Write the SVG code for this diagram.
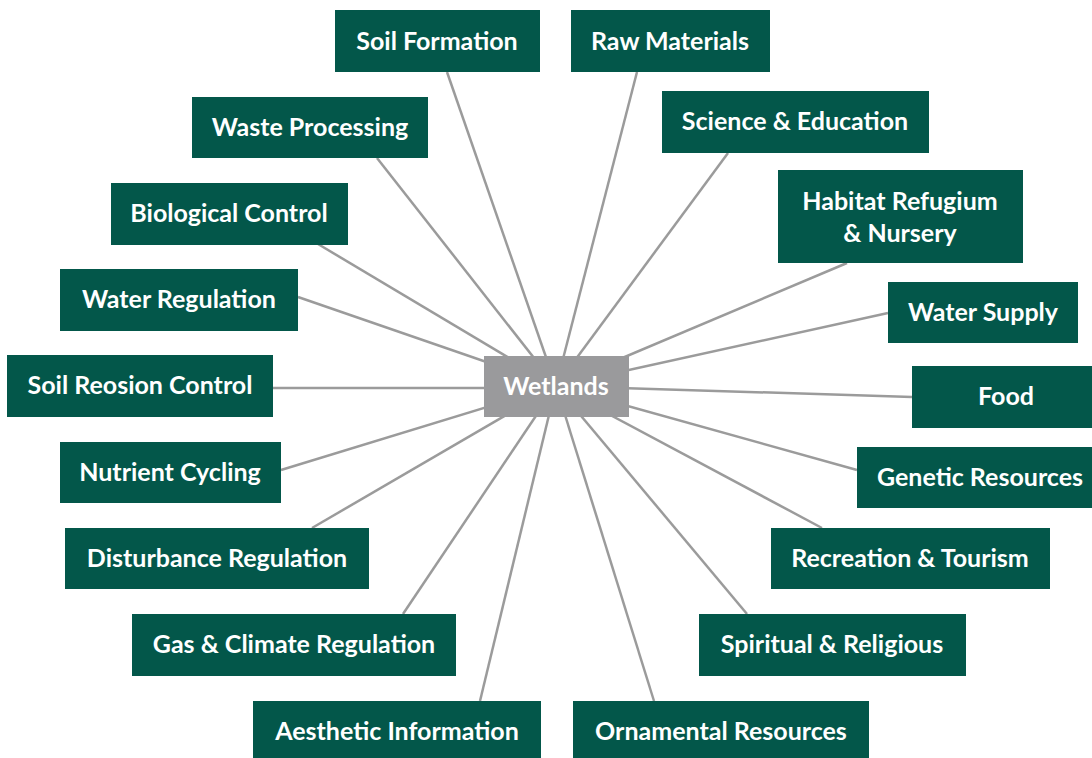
<svg xmlns="http://www.w3.org/2000/svg" width="1092" height="758" viewBox="0 0 1092 758">
<style>
.box{fill:#03574a}
.hub{fill:#9a9a9c}
.lbl{font-family:Lato,"Open Sans","Liberation Sans",sans-serif;font-weight:700;font-size:25px;fill:#ffffff;text-anchor:middle}
.conn line{stroke:#9b9b9b;stroke-width:2.5}
</style>
<rect width="1092" height="758" fill="#ffffff"/>
<g class="conn" id="connectors">
<line x1="447" y1="72" x2="556" y2="386"/>
<line x1="637" y1="72" x2="556" y2="386"/>
<line x1="377" y1="158" x2="556" y2="386"/>
<line x1="728" y1="153" x2="556" y2="386"/>
<line x1="318" y1="244" x2="556" y2="386"/>
<line x1="847" y1="263" x2="556" y2="386"/>
<line x1="298" y1="297" x2="556" y2="386"/>
<line x1="888" y1="313" x2="556" y2="386"/>
<line x1="273" y1="388" x2="556" y2="388"/>
<line x1="912" y1="397" x2="556" y2="386"/>
<line x1="281" y1="470" x2="556" y2="386"/>
<line x1="857" y1="470" x2="556" y2="386"/>
<line x1="312" y1="528" x2="556" y2="386"/>
<line x1="822" y1="528" x2="556" y2="386"/>
<line x1="403" y1="614" x2="556" y2="386"/>
<line x1="747" y1="614" x2="556" y2="386"/>
<line x1="480" y1="701" x2="556" y2="386"/>
<line x1="654" y1="701" x2="556" y2="386"/>
</g>
<g id="wetlands"><rect class="hub" x="484" y="356" width="145" height="61"/><text class="lbl" x="556" y="395">Wetlands</text></g>
<g id="soil-formation"><rect class="box" x="335" y="10" width="205" height="62"/><text class="lbl" x="437" y="50">Soil Formation</text></g>
<g id="raw-materials"><rect class="box" x="571" y="10" width="199" height="62"/><text class="lbl" x="670" y="50">Raw Materials</text></g>
<g id="waste-processing"><rect class="box" x="192" y="97" width="236" height="61"/><text class="lbl" x="310" y="136">Waste Processing</text></g>
<g id="science-education"><rect class="box" x="662" y="91" width="267" height="62"/><text class="lbl" x="795" y="130">Science &amp; Education</text></g>
<g id="biological-control"><rect class="box" x="111" y="183" width="237" height="62"/><text class="lbl" x="229" y="222">Biological Control</text></g>
<g id="habitat"><rect class="box" x="778" y="170" width="245" height="93"/><text class="lbl" x="900" y="210">Habitat Refugium</text><text class="lbl" x="900" y="242">&amp; Nursery</text></g>
<g id="water-regulation"><rect class="box" x="60" y="269" width="238" height="62"/><text class="lbl" x="179" y="308">Water Regulation</text></g>
<g id="water-supply"><rect class="box" x="888" y="282" width="190" height="61"/><text class="lbl" x="983" y="321">Water Supply</text></g>
<g id="soil-erosion"><rect class="box" x="7" y="355" width="266" height="62"/><text class="lbl" x="140" y="394">Soil Reosion Control</text></g>
<g id="food"><rect class="box" x="912" y="366" width="190" height="62"/><text class="lbl" x="1006" y="405">Food</text></g>
<g id="nutrient-cycling"><rect class="box" x="60" y="442" width="221" height="61"/><text class="lbl" x="170" y="481">Nutrient Cycling</text></g>
<g id="genetic-resources"><rect class="box" x="857" y="447" width="246" height="61"/><text class="lbl" x="980" y="486">Genetic Resources</text></g>
<g id="disturbance-regulation"><rect class="box" x="65" y="528" width="304" height="61"/><text class="lbl" x="217" y="567">Disturbance Regulation</text></g>
<g id="recreation-tourism"><rect class="box" x="771" y="528" width="279" height="61"/><text class="lbl" x="910" y="567">Recreation &amp; Tourism</text></g>
<g id="gas-climate"><rect class="box" x="132" y="614" width="324" height="62"/><text class="lbl" x="294" y="653">Gas &amp; Climate Regulation</text></g>
<g id="spiritual-religious"><rect class="box" x="699" y="614" width="267" height="62"/><text class="lbl" x="832" y="653">Spiritual &amp; Religious</text></g>
<g id="aesthetic-information"><rect class="box" x="253" y="701" width="288" height="62"/><text class="lbl" x="397" y="740">Aesthetic Information</text></g>
<g id="ornamental-resources"><rect class="box" x="573" y="701" width="296" height="62"/><text class="lbl" x="721" y="740">Ornamental Resources</text></g>
</svg>
